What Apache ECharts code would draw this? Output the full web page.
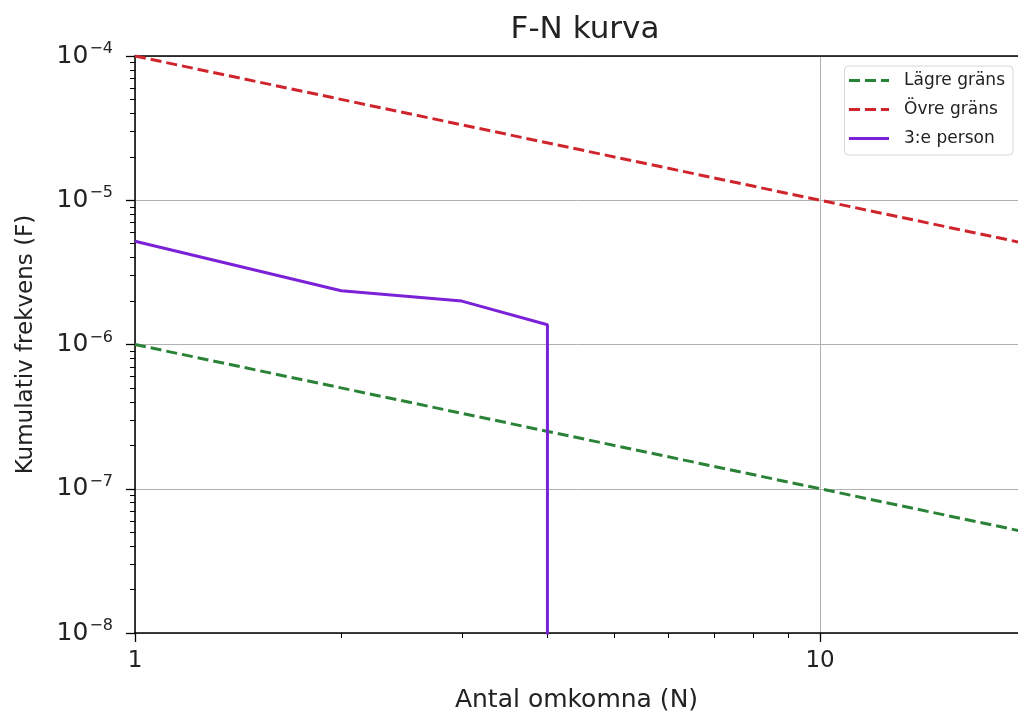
<!DOCTYPE html>
<html>
<head>
<meta charset="utf-8">
<title>F-N kurva</title>
<script src="https://cdn.jsdelivr.net/npm/echarts@6/dist/echarts.min.js"></script>
<style>
  html, body { margin: 0; padding: 0; background: #fff; }
  #main { width: 1018px; height: 718px; }
</style>
</head>
<body>
<div id="main"></div>
<script>
// data
const gransN = [1, 10, 20]
const lagreGrans = [1e-6, 1e-7, 5e-8]
const ovreGrans = [1e-4, 1e-5, 5e-6]

const personN = [1, 2, 3, 4, 4]
const personF = [5.2e-6, 2.36e-6, 2.0e-6, 1.37e-6, 1e-9] // last point drops off the bottom

const xMajor = [1, 10]
const yMajor = [1e-8, 1e-7, 1e-6, 1e-5, 1e-4]

// minor ticks 2..9 per decade
const xMinor = [2, 3, 4, 5, 6, 7, 8, 9]
const yMinor = []
yMajor.slice(0, -1).forEach(d => {
  for (let m = 2; m <= 9; m++) yMinor.push(m * d)
})

const font = 'DejaVu Sans'
const xMax = 19.45 // the picture is cut off a little before N = 20

function pairs(xs, ys) {
  return xs.map((x, i) => [x, ys[i]])
}

function expLabel(v) {
  const e = Math.round(Math.log10(v))
  return '10{sup|−' + Math.abs(e) + '}'
}

const chart = echarts.init(document.getElementById('main'))

const option = {
  animation: false,
  backgroundColor: '#fff',
  title: {
    text: 'F-N kurva',
    left: 580,
    top: 9,
    textAlign: 'center',
    textStyle: { fontFamily: font, fontSize: 31, fontWeight: 'normal', color: '#222' }
  },
  legend: {
    orient: 'vertical',
    right: 5,
    top: 66,
    padding: [6, 8, 8, 3],
    itemWidth: 40,
    itemHeight: 14,
    itemGap: 12,
    backgroundColor: '#fff',
    borderColor: '#d6d6d6',
    borderWidth: 1,
    borderRadius: 4,
    itemStyle: { opacity: 0 },
    lineStyle: { width: 3 },
    textStyle: { fontFamily: font, fontSize: 17, color: '#222', padding: [0, 0, 0, 10] },
    data: ['Lägre gräns', 'Övre gräns', '3:e person']
  },
  grid: {
    left: 135,
    right: 0,
    top: 56,
    bottom: 82
  },
  xAxis: [
    {
      type: 'log',
      logBase: 10,
      min: 1,
      max: xMax,
      name: 'Antal omkomna (N)',
      nameLocation: 'middle',
      nameGap: 55,
      nameTextStyle: { fontFamily: font, fontSize: 25, color: '#222' },
      axisLine: { show: true, lineStyle: { color: '#000', width: 1.5 } },
      axisTick: { show: true, length: 9, customValues: xMajor, lineStyle: { color: '#000', width: 1.3 } },
      axisLabel: {
        customValues: xMajor,
        margin: 17,
        fontFamily: font,
        fontSize: 23,
        color: '#222'
      },
      splitLine: { show: true, lineStyle: { color: '#b0b0b0', width: 1 } }
    },
    {
      type: 'log',
      logBase: 10,
      min: 1,
      max: xMax,
      position: 'bottom',
      axisLine: { show: false },
      axisTick: { show: true, length: 5, customValues: xMinor, lineStyle: { color: '#000', width: 1 } },
      axisLabel: { show: false },
      splitLine: { show: false }
    },
    {
      type: 'log',
      logBase: 10,
      min: 1,
      max: xMax,
      position: 'top',
      axisLine: { show: true, lineStyle: { color: '#000', width: 1.5 } },
      axisTick: { show: false },
      axisLabel: { show: false },
      splitLine: { show: false }
    }
  ],
  yAxis: [
    {
      type: 'log',
      logBase: 10,
      min: 1e-8,
      max: 1e-4,
      name: 'Kumulativ frekvens (F)',
      nameLocation: 'middle',
      nameGap: 97,
      nameTextStyle: { fontFamily: font, fontSize: 23, color: '#222' },
      axisLine: { show: true, lineStyle: { color: '#000', width: 1.5 } },
      axisTick: { show: true, length: 9, customValues: yMajor, lineStyle: { color: '#000', width: 1.3 } },
      axisLabel: {
        customValues: yMajor,
        margin: 22,
        formatter: expLabel,
        fontFamily: font,
        fontSize: 25,
        color: '#222',
        rich: {
          sup: { fontFamily: font, fontSize: 16, color: '#222', verticalAlign: 'top', padding: [0, 0, 14, 1] }
        }
      },
      splitLine: { show: true, lineStyle: { color: '#b0b0b0', width: 1 } }
    },
    {
      type: 'log',
      logBase: 10,
      min: 1e-8,
      max: 1e-4,
      position: 'left',
      axisLine: { show: false },
      axisTick: { show: true, length: 5, customValues: yMinor, lineStyle: { color: '#000', width: 1 } },
      axisLabel: { show: false },
      splitLine: { show: false }
    }
  ],
  series: [
    {
      name: 'Lägre gräns',
      type: 'line',
      xAxisIndex: 0,
      yAxisIndex: 0,
      symbol: 'none',
      clip: true,
      color: '#2a8236',
      lineStyle: { color: '#2a8236', width: 3, type: [11, 5] },
      data: pairs(gransN, lagreGrans),
      z: 3
    },
    {
      name: 'Övre gräns',
      type: 'line',
      xAxisIndex: 0,
      yAxisIndex: 0,
      symbol: 'none',
      clip: true,
      color: '#d0242c',
      lineStyle: { color: '#d0242c', width: 3, type: [11, 5] },
      data: pairs(gransN, ovreGrans),
      z: 3
    },
    {
      name: '3:e person',
      type: 'line',
      xAxisIndex: 0,
      yAxisIndex: 0,
      symbol: 'none',
      clip: true,
      color: '#7b22d8',
      lineStyle: { color: '#7b22d8', width: 3 },
      data: pairs(personN, personF),
      z: 3
    }
  ]
}

chart.setOption(option)
</script>
</body>
</html>
